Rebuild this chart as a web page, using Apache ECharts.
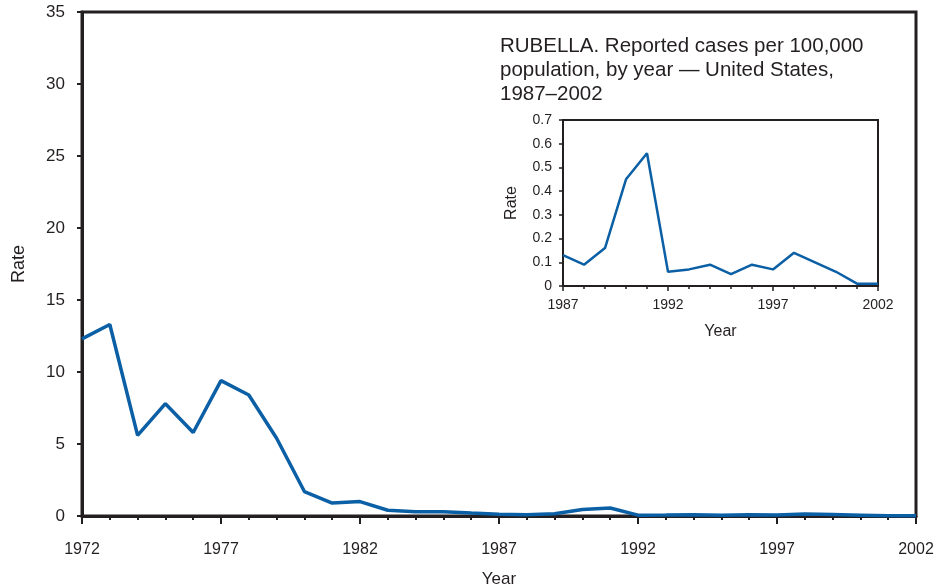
<!DOCTYPE html>
<html>
<head>
<meta charset="utf-8">
<script src="https://cdn.jsdelivr.net/npm/echarts@6/dist/echarts.min.js"></script>
<style>
  html, body { margin: 0; padding: 0; background: #fff; }
  #chart { width: 940px; height: 588px; }
</style>
</head>
<body>
<div id="chart"></div>
<script>
// Rubella: reported cases per 100,000 population, United States
const years = [1972, 1973, 1974, 1975, 1976, 1977, 1978, 1979, 1980, 1981,
  1982, 1983, 1984, 1985, 1986, 1987, 1988, 1989, 1990, 1991, 1992, 1993,
  1994, 1995, 1996, 1997, 1998, 1999, 2000, 2001, 2002];
const rates = [12.3, 13.3, 5.6, 7.8, 5.8, 9.4, 8.4, 5.4, 1.7, 0.9,
  1.0, 0.4, 0.3, 0.3, 0.2, 0.13, 0.09, 0.16, 0.45, 0.56, 0.06, 0.07,
  0.09, 0.05, 0.09, 0.07, 0.14, 0.10, 0.06, 0.01, 0.01];

// Inset: 1987-2002 detail
const insetYears = years.slice(15);
const insetRates = rates.slice(15);

const insetTitle = 'RUBELLA. Reported cases per 100,000\npopulation, by year \u2014 United States,\n1987\u20132002';

const ink = '#231f20';
const lineColor = '#0b5fa5';
const font = 'Liberation Sans, Arial, sans-serif';

const chart = echarts.init(document.getElementById('chart'));

chart.setOption({
  animation: false,
  backgroundColor: '#fff',
  textStyle: { fontFamily: font, color: ink },
  title: {
    text: insetTitle,
    left: 500, top: 34, padding: 0,
    textStyle: { fontFamily: font, fontSize: 20.5, fontWeight: 'normal', color: ink, lineHeight: 24 }
  },
  grid: [
    { left: 82, right: 24, top: 12, bottom: 72, show: true, borderColor: ink, borderWidth: 3,
      outerBoundsMode: 'none', containLabel: false },
    { left: 563, right: 62, top: 120, bottom: 302, show: true, borderColor: ink, borderWidth: 2,
      backgroundColor: '#fff', outerBoundsMode: 'none', containLabel: false }
  ],
  xAxis: [
    {
      gridIndex: 0, type: 'value', min: 1972, max: 2002, interval: 5,
      name: 'Year', nameLocation: 'middle', nameGap: 55,
      nameTextStyle: { fontSize: 17, color: ink },
      axisLine: { lineStyle: { color: ink, width: 3 } },
      axisTick: { inside: false, length: 8, lineStyle: { color: ink, width: 2 } },
      minorTick: { show: true, splitNumber: 5, length: 4, lineStyle: { color: ink, width: 2 } },
      axisLabel: { margin: 26, fontSize: 16, color: ink, formatter: v => String(v) },
      splitLine: { show: false }
    },
    {
      gridIndex: 1, type: 'value', min: 1987, max: 2002, interval: 5,
      name: 'Year', nameLocation: 'middle', nameGap: 38,
      nameTextStyle: { fontSize: 16, color: ink },
      axisLine: { lineStyle: { color: ink, width: 2 } },
      axisTick: { inside: false, length: 5, lineStyle: { color: ink, width: 1.5 } },
      minorTick: { show: true, splitNumber: 5, length: 3, lineStyle: { color: ink, width: 1.5 } },
      axisLabel: { margin: 12, fontSize: 14, color: ink, formatter: v => String(v) },
      splitLine: { show: false }
    }
  ],
  yAxis: [
    {
      gridIndex: 0, type: 'value', min: 0, max: 35, interval: 5,
      name: 'Rate', nameLocation: 'middle', nameGap: 54,
      nameTextStyle: { fontSize: 18, color: ink },
      axisLine: { show: true, lineStyle: { color: ink, width: 3 } },
      axisTick: { show: true, inside: false, length: 5, lineStyle: { color: ink, width: 2 } },
      axisLabel: { margin: 17, fontSize: 17, color: ink },
      splitLine: { show: false }
    },
    {
      gridIndex: 1, type: 'value', min: 0, max: 0.7, interval: 0.1,
      name: 'Rate', nameLocation: 'middle', nameGap: 43,
      nameTextStyle: { fontSize: 16, color: ink },
      axisLine: { show: true, lineStyle: { color: ink, width: 2 } },
      axisTick: { show: true, inside: false, length: 4, lineStyle: { color: ink, width: 1.5 } },
      axisLabel: { margin: 11, fontSize: 14, color: ink, formatter: v => (v === 0 ? '0' : v.toFixed(1)) },
      splitLine: { show: false }
    }
  ],
  series: [
    {
      type: 'line', xAxisIndex: 0, yAxisIndex: 0,
      data: years.map((y, i) => [y, rates[i]]),
      symbol: 'none', lineStyle: { color: lineColor, width: 3.5 }, z: 3
    },
    {
      type: 'line', xAxisIndex: 1, yAxisIndex: 1,
      data: insetYears.map((y, i) => [y, insetRates[i]]),
      symbol: 'none', lineStyle: { color: lineColor, width: 2.5 }, z: 3
    }
  ]
});
</script>
</body>
</html>
